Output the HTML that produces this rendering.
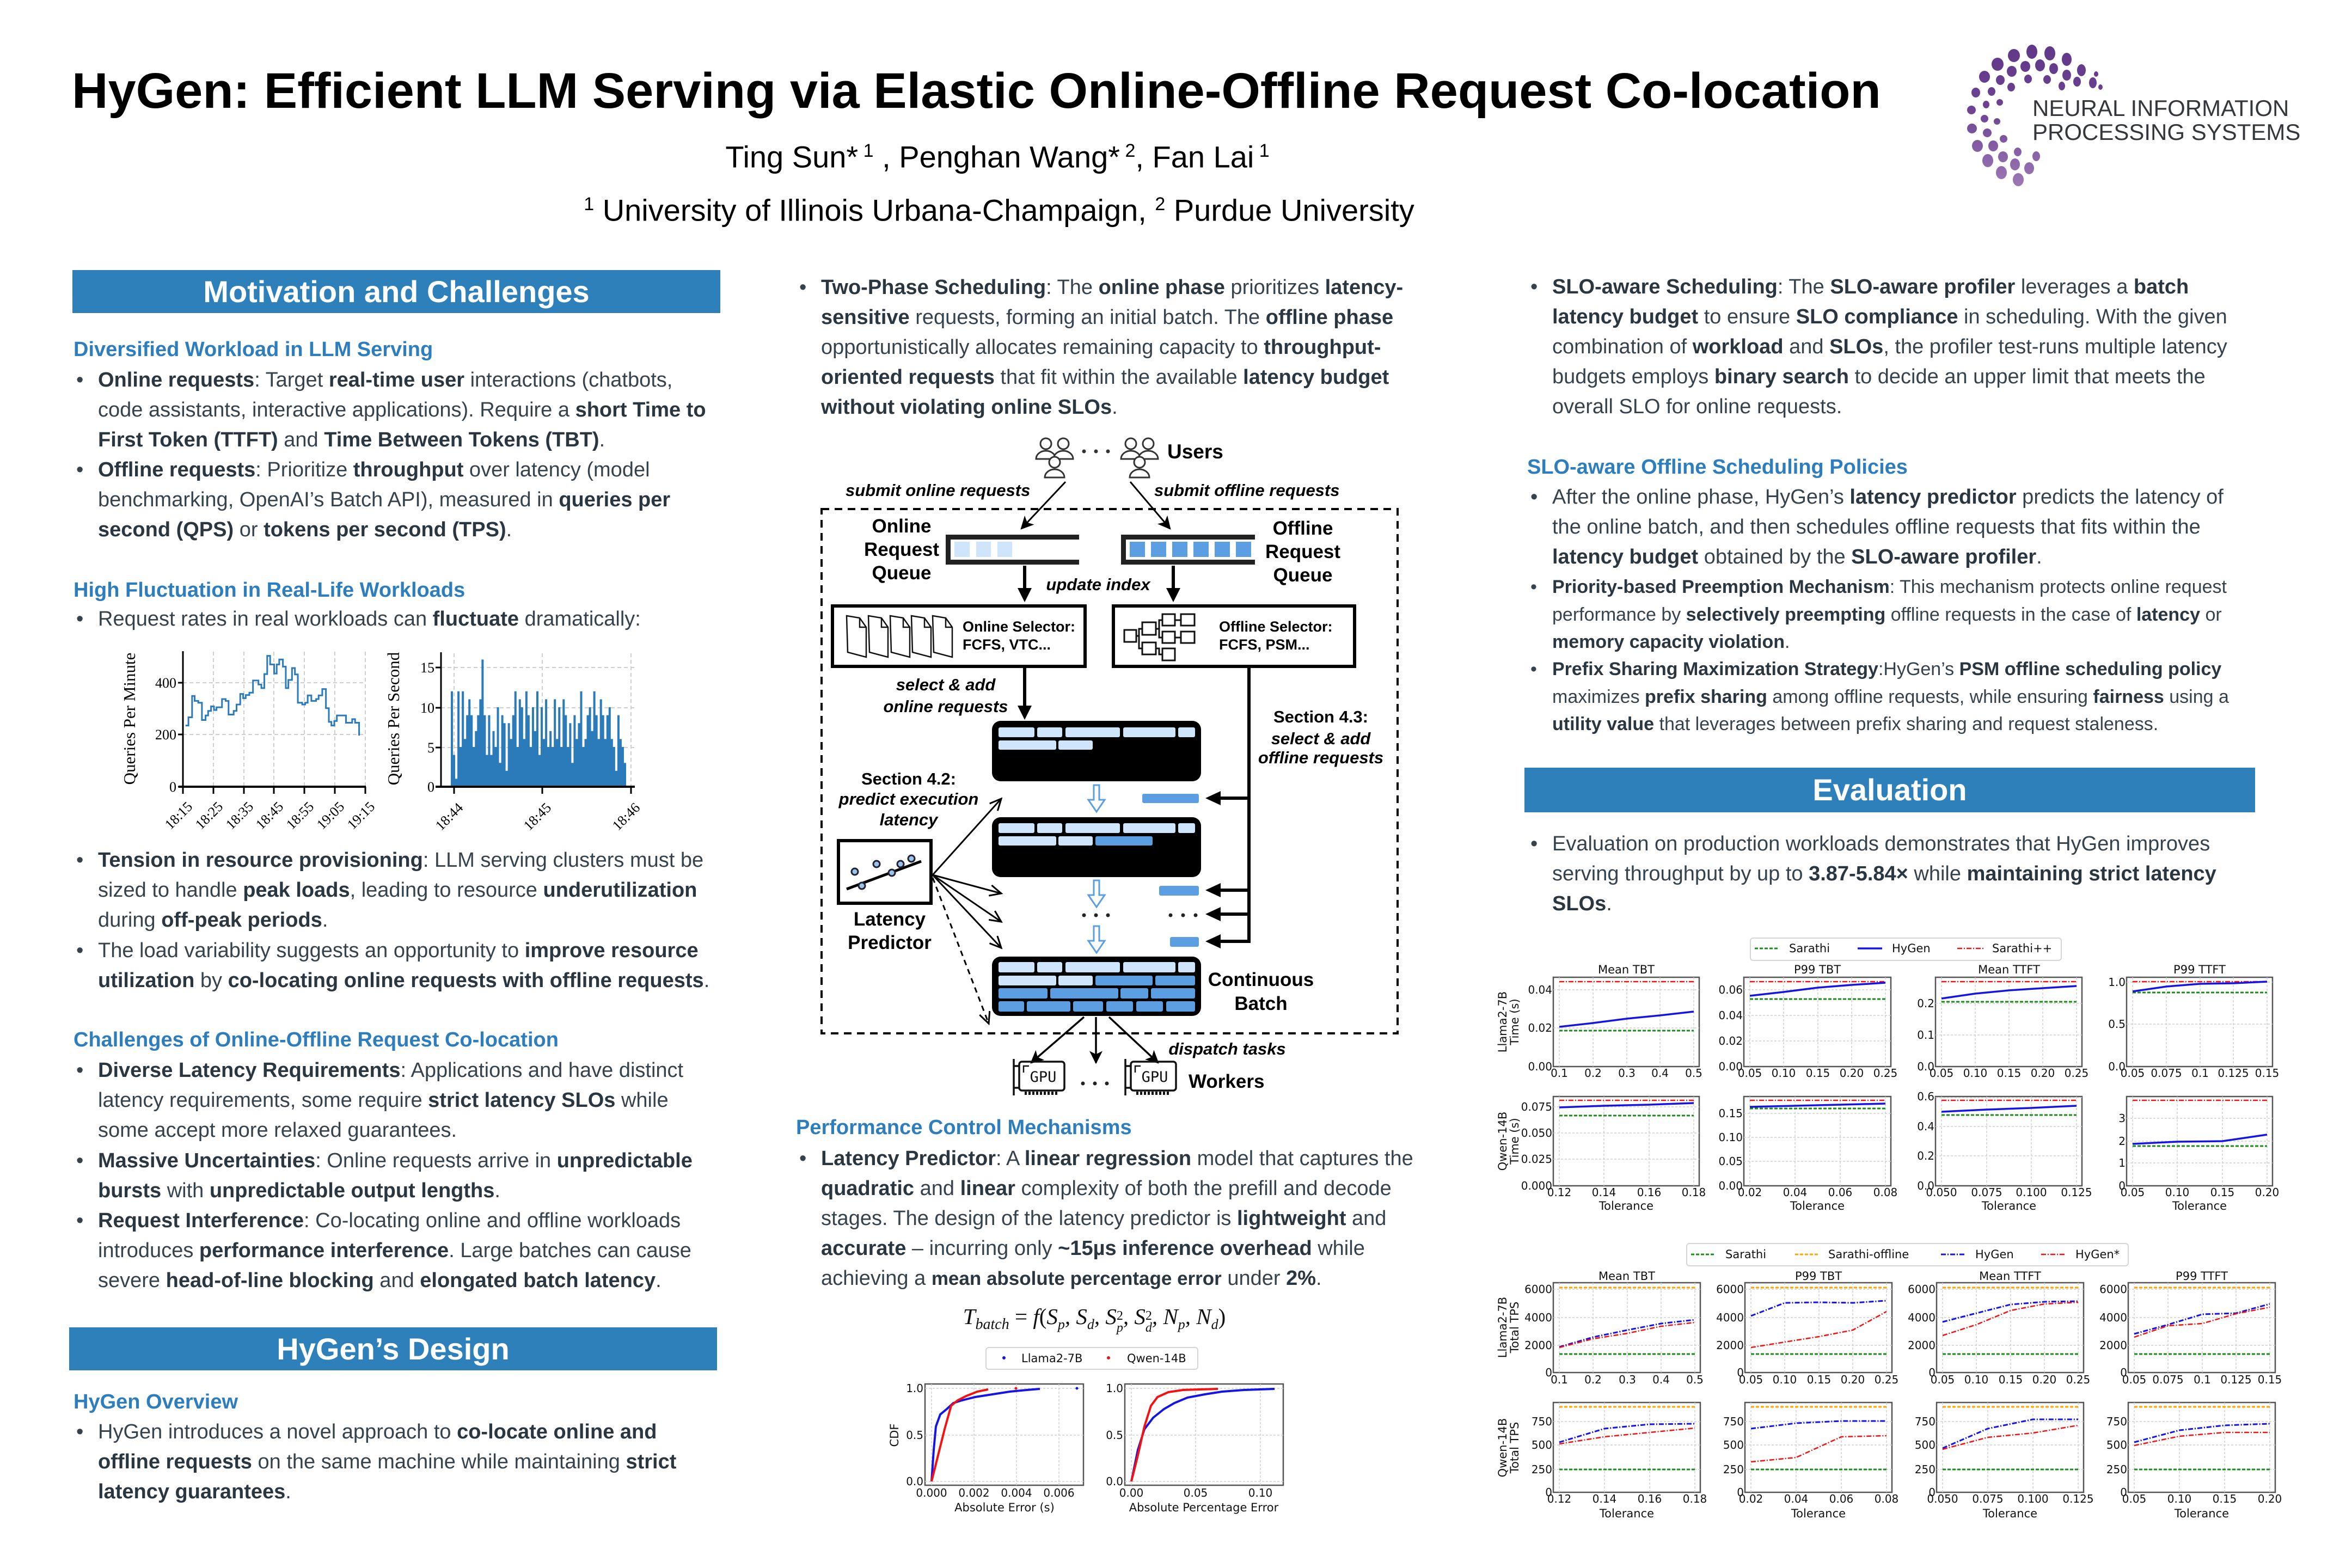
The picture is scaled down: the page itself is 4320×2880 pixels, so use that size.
<!DOCTYPE html>
<html><head><meta charset="utf-8">
<style>
html,body{margin:0;padding:0;background:#fff}
body{width:4320px;height:2880px;position:relative;overflow:hidden;font-family:"Liberation Sans",Arial,sans-serif}
.t{position:absolute;font-size:38px;line-height:55px;color:#36424c;white-space:nowrap}
.t b{color:#2a3640}
.s{font-size:34px;line-height:50.5px}
.li{position:relative}
.li:before{content:"\2022";position:absolute;left:-40px;top:0}
.h2{position:absolute;font-weight:bold;font-size:38px;line-height:55px;color:#2e7ebd;white-space:nowrap}
.bar{position:absolute;background:#2e80bb;color:#fff;font-weight:bold;font-size:56px;text-align:center;white-space:nowrap}
svg text{font-family:"Liberation Sans",Arial,sans-serif}
.tk{font-family:"DejaVu Sans",sans-serif !important;font-size:20px;fill:#111}
.tt{font-family:"DejaVu Sans",sans-serif !important;font-size:21px;fill:#111}
.fr{fill:#fff;stroke:#555;stroke-width:2.5}
.gd{stroke:#cfcfcf;stroke-width:1.5;stroke-dasharray:4 3;fill:none}
.sg{stroke:#1a8c1a;stroke-width:3;stroke-dasharray:6 3;fill:none}
.sr{stroke:#f21212;stroke-width:2.5;stroke-dasharray:9 3 2 3;fill:none}
.sb{stroke:#1414e6;stroke-width:3.5;fill:none}
.sbd{stroke:#1414e6;stroke-width:3;stroke-dasharray:9 3 2 3;fill:none}
.so{stroke:#ffa500;stroke-width:3;stroke-dasharray:6 3;fill:none}
.bi{font-weight:bold;font-style:italic;font-size:31px}
.bd{font-weight:bold;font-size:35px}
.lt{fill:#cfe5fb}.dk{fill:#5b9fe2}
</style></head>
<body>

<!-- Title -->
<div style="position:absolute;left:132px;top:112px;font-weight:bold;font-size:92px;line-height:110px;white-space:nowrap;color:#000">HyGen: Efficient LLM Serving via Elastic Online-Offline Request Co-location</div>
<div style="position:absolute;left:1032px;top:242px;width:1600px;text-align:center;font-size:56px;line-height:70px;white-space:nowrap;color:#000">Ting Sun*<sup style="font-size:34px"> 1</sup> , Penghan Wang*<sup style="font-size:34px"> 2</sup>, Fan Lai<sup style="font-size:34px"> 1</sup></div>
<div style="position:absolute;left:935px;top:340px;width:1800px;text-align:center;font-size:56px;line-height:70px;white-space:nowrap;color:#000"><sup style="font-size:34px">1</sup> University of Illinois Urbana-Champaign, <sup style="font-size:34px">2</sup> Purdue University</div>

<!-- Logo text -->
<div style="position:absolute;left:3733px;top:177px;font-size:42px;line-height:44px;color:#34373b;white-space:nowrap">NEURAL INFORMATION<br>PROCESSING SYSTEMS</div>

<!-- Section bars -->
<div class="bar" style="left:133px;top:496px;width:1190px;height:79px;line-height:79px">Motivation and Challenges</div>
<div class="bar" style="left:127px;top:2438px;width:1190px;height:79px;line-height:79px">HyGen’s Design</div>
<div class="bar" style="left:2800px;top:1410px;width:1342px;height:82px;line-height:82px">Evaluation</div>

<!-- Left column -->
<div class="h2" style="left:135px;top:615px">Diversified Workload in LLM Serving</div>
<div class="t li" style="position:absolute;left:180px;top:671px"><b>Online requests</b>: Target <b>real-time user</b> interactions (chatbots,<br>code assistants, interactive applications). Require a <b>short Time to</b><br><b>First Token (TTFT)</b> and <b>Time Between Tokens (TBT)</b>.</div>
<div class="t li" style="position:absolute;left:180px;top:836px"><b>Offline requests</b>: Prioritize <b>throughput</b> over latency (model<br>benchmarking, OpenAI’s Batch API), measured in <b>queries per</b><br><b>second (QPS)</b> or <b>tokens per second (TPS)</b>.</div>
<div class="h2" style="left:135px;top:1057px">High Fluctuation in Real-Life Workloads</div>
<div class="t li" style="position:absolute;left:180px;top:1110px">Request rates in real workloads can <b>fluctuate</b> dramatically:</div>

<div class="t li" style="position:absolute;left:180px;top:1553px"><b>Tension in resource provisioning</b>: LLM serving clusters must be<br>sized to handle <b>peak loads</b>, leading to resource <b>underutilization</b><br>during <b>off-peak periods</b>.</div>
<div class="t li" style="position:absolute;left:180px;top:1719px">The load variability suggests an opportunity to <b>improve resource</b><br><b>utilization</b> by <b>co-locating online requests with offline requests</b>.</div>
<div class="h2" style="left:135px;top:1883px">Challenges of Online-Offline Request Co-location</div>
<div class="t li" style="position:absolute;left:180px;top:1939px"><b>Diverse Latency Requirements</b>: Applications and have distinct<br>latency requirements, some require <b>strict latency SLOs</b> while<br>some accept more relaxed guarantees.</div>
<div class="t li" style="position:absolute;left:180px;top:2105px"><b>Massive Uncertainties</b>: Online requests arrive in <b>unpredictable</b><br><b>bursts</b> with <b>unpredictable output lengths</b>.</div>
<div class="t li" style="position:absolute;left:180px;top:2215px"><b>Request Interference</b>: Co-locating online and offline workloads<br>introduces <b>performance interference</b>. Large batches can cause<br>severe <b>head-of-line blocking</b> and <b>elongated batch latency</b>.</div>
<div class="h2" style="left:135px;top:2548px">HyGen Overview</div>
<div class="t li" style="position:absolute;left:180px;top:2603px">HyGen introduces a novel approach to <b>co-locate online and</b><br><b>offline requests</b> on the same machine while maintaining <b>strict</b><br><b>latency guarantees</b>.</div>

<!-- Middle column -->
<div class="t li" style="position:absolute;left:1508px;top:501px"><b>Two-Phase Scheduling</b>: The <b>online phase</b> prioritizes <b>latency-</b><br><b>sensitive</b> requests, forming an initial batch. The <b>offline phase</b><br>opportunistically allocates remaining capacity to <b>throughput-</b><br><b>oriented requests</b> that fit within the available <b>latency budget</b><br><b>without violating online SLOs</b>.</div>
<div class="h2" style="left:1462px;top:2044px">Performance Control Mechanisms</div>
<div class="t li" style="position:absolute;left:1508px;top:2101px"><b>Latency Predictor</b>: A <b>linear regression</b> model that captures the<br><b>quadratic</b> and <b>linear</b> complexity of both the prefill and decode<br>stages. The design of the latency predictor is <b>lightweight</b> and<br><b>accurate</b> – incurring only <b>~15µs inference overhead</b> while<br>achieving a <b style="font-size:35px">mean absolute percentage error</b> under <b>2%</b>.</div>
<div style="position:absolute;left:1700px;top:2388px;width:620px;text-align:center;font-family:'Liberation Serif',serif;font-style:italic;font-size:41px;line-height:60px;color:#111;white-space:nowrap">T<sub style="font-size:28px">batch</sub> <span style="font-style:normal">=</span> f<span style="font-style:normal">(</span>S<sub style="font-size:26px">p</sub>, S<sub style="font-size:26px">d</sub>, S<span style="display:inline-block;vertical-align:-14px;font-size:24px;line-height:22px;text-align:left"><span style="font-style:normal">2</span><br>p</span>, S<span style="display:inline-block;vertical-align:-14px;font-size:24px;line-height:22px;text-align:left"><span style="font-style:normal">2</span><br>d</span>, N<sub style="font-size:26px">p</sub>, N<sub style="font-size:26px">d</sub><span style="font-style:normal">)</span></div>

<!-- Right column -->
<div class="t li" style="position:absolute;left:2851px;top:500px"><b>SLO-aware Scheduling</b>: The <b>SLO-aware profiler</b> leverages a <b>batch</b><br><b>latency budget</b> to ensure <b>SLO compliance</b> in scheduling. With the given<br>combination of <b>workload</b> and <b>SLOs</b>, the profiler test-runs multiple latency<br>budgets employs <b>binary search</b> to decide an upper limit that meets the<br>overall SLO for online requests.</div>
<div class="h2" style="left:2805px;top:831px">SLO-aware Offline Scheduling Policies</div>
<div class="t li" style="position:absolute;left:2851px;top:886px">After the online phase, HyGen’s <b>latency predictor</b> predicts the latency of<br>the online batch, and then schedules offline requests that fits within the<br><b>latency budget</b> obtained by the <b>SLO-aware profiler</b>.</div>
<div class="t s li" style="position:absolute;left:2851px;top:1053px"><b>Priority-based Preemption Mechanism</b>: This mechanism protects online request<br>performance by <b>selectively preempting</b> offline requests in the case of <b>latency</b> or<br><b>memory capacity violation</b>.</div>
<div class="t s li" style="position:absolute;left:2851px;top:1204px"><b>Prefix Sharing Maximization Strategy</b>:HyGen’s <b>PSM offline scheduling policy</b><br>maximizes <b>prefix sharing</b> among offline requests, while ensuring <b>fairness</b> using a<br><b>utility value</b> that leverages between prefix sharing and request staleness.</div>
<div class="t li" style="position:absolute;left:2851px;top:1523px">Evaluation on production workloads demonstrates that HyGen improves<br>serving throughput by up to <b>3.87-5.84×</b> while <b>maintaining strict latency</b><br><b>SLOs</b>.</div>

<svg width="4320" height="2880" viewBox="0 0 4320 2880" style="position:absolute;left:0;top:0" xmlns="http://www.w3.org/2000/svg">
<defs>
<linearGradient id="lg" gradientUnits="userSpaceOnUse" x1="0" y1="90" x2="0" y2="340"><stop offset="0" stop-color="#623889"/><stop offset="0.45" stop-color="#6d4493"/><stop offset="1" stop-color="#9b78b4"/></linearGradient>
<marker id="af" viewBox="0 0 10 10" refX="9" refY="5" markerUnits="userSpaceOnUse" markerWidth="26" markerHeight="24" orient="auto"><path d="M0,0 L10,5 L0,10 L2.5,5 Z" fill="#000"/></marker>
<marker id="ao" viewBox="0 0 10 10" refX="9.5" refY="5" markerUnits="userSpaceOnUse" markerWidth="26" markerHeight="22" orient="auto"><path d="M0,0.5 L9.5,5 L0,9.5" fill="none" stroke="#000" stroke-width="1.4"/></marker>
</defs>

<!-- Logo dots -->
<g fill="url(#lg)">
<ellipse cx="3844" cy="152" rx="7" ry="10"/><ellipse cx="3823" cy="129" rx="8" ry="11"/><ellipse cx="3796" cy="109" rx="9" ry="12"/><ellipse cx="3765" cy="98" rx="10" ry="13"/><ellipse cx="3732" cy="95" rx="10" ry="13"/><ellipse cx="3699" cy="102" rx="11" ry="12"/><ellipse cx="3669" cy="118" rx="11" ry="12"/><ellipse cx="3645" cy="141" rx="10" ry="11"/><ellipse cx="3629" cy="170" rx="8" ry="9"/><ellipse cx="3621" cy="202" rx="8" ry="8"/><ellipse cx="3622" cy="236" rx="9" ry="9"/><ellipse cx="3632" cy="268" rx="10" ry="11"/><ellipse cx="3651" cy="295" rx="10" ry="12"/><ellipse cx="3676" cy="317" rx="10" ry="12"/><ellipse cx="3707" cy="330" rx="10" ry="12"/>
<ellipse cx="3815" cy="150" rx="7" ry="9"/><ellipse cx="3796" cy="138" rx="8" ry="10"/><ellipse cx="3772" cy="126" rx="8" ry="10"/><ellipse cx="3747" cy="120" rx="9" ry="11"/><ellipse cx="3720" cy="122" rx="9" ry="10"/><ellipse cx="3695" cy="131" rx="9" ry="10"/><ellipse cx="3674" cy="147" rx="8" ry="9"/><ellipse cx="3658" cy="168" rx="7" ry="8"/><ellipse cx="3648" cy="192" rx="6" ry="7"/><ellipse cx="3645" cy="218" rx="7" ry="7"/><ellipse cx="3650" cy="244" rx="8" ry="8"/><ellipse cx="3661" cy="268" rx="9" ry="10"/><ellipse cx="3679" cy="288" rx="9" ry="10"/><ellipse cx="3701" cy="302" rx="9" ry="11"/><ellipse cx="3727" cy="309" rx="9" ry="11"/>
<ellipse cx="3787" cy="158" rx="6" ry="8"/><ellipse cx="3760" cy="146" rx="7" ry="8"/><ellipse cx="3725" cy="145" rx="7" ry="8"/><ellipse cx="3694" cy="160" rx="7" ry="8"/><ellipse cx="3673" cy="188" rx="6" ry="6"/><ellipse cx="3668" cy="223" rx="6" ry="6"/><ellipse cx="3680" cy="255" rx="7" ry="7"/><ellipse cx="3706" cy="279" rx="7" ry="8"/><ellipse cx="3740" cy="287" rx="7" ry="9"/>
<ellipse cx="3858" cy="160" rx="4" ry="5"/><ellipse cx="3850" cy="136" rx="4" ry="5"/>
</g>

<!-- ===== Left charts ===== -->
<g>
<path d="M336 1254H671M336 1349H671M392 1197V1445M448 1197V1445M503 1197V1445M559 1197V1445M615 1197V1445M671 1197V1445" stroke="#cfcfcf" stroke-width="2" stroke-dasharray="7 5" fill="none"/>
<line x1="336" y1="1196" x2="336" y2="1446" stroke="#000" stroke-width="3"/>
<line x1="328" y1="1445" x2="672" y2="1445" stroke="#000" stroke-width="4"/>
<path d="M327 1254H336M327 1349H336M327 1445H336M336 1445V1458M392 1445V1458M448 1445V1458M503 1445V1458M559 1445V1458M615 1445V1458M671 1445V1458" stroke="#000" stroke-width="3"/>
<path transform="translate(180,1150) scale(0.6698,0.3350)" d="M240,545 H248 V500 H258 V383 H265 V410 H275 V420 H285 V515 H295 V490 H302 V465 H310 V440 H318 V460 H325 V445 H340 V400 H350 V410 H358 V485 H372 V465 H380 V430 H390 V372 H398 V395 H405 V378 H415 V365 H425 V298 H440 V320 H448 V340 H456 V263 H464 V163 H472 V210 H483 V260 H490 V210 H497 V183 H507 V222 H515 V340 H522 V295 H532 V230 H540 V265 H548 V420 H560 V430 H568 V420 H575 V380 H585 V410 H598 V400 H605 V380 H615 V345 H625 V450 H633 V525 H640 V545 H648 V520 H655 V490 H670 V490 H680 V530 H697 V510 H705 V530 H716 V600" fill="none" stroke="#2b7bba" stroke-width="3" vector-effect="non-scaling-stroke"/>
<g font-size="26" fill="#000">
<text x="324" y="1263" text-anchor="end" style="font-family:'Liberation Serif',serif">400</text><text x="324" y="1358" text-anchor="end" style="font-family:'Liberation Serif',serif">200</text><text x="324" y="1454" text-anchor="end" style="font-family:'Liberation Serif',serif">0</text>
<text transform="translate(334,1504) rotate(-45)" text-anchor="middle" style="font-family:'Liberation Serif',serif">18:15</text>
<text transform="translate(390,1504) rotate(-45)" text-anchor="middle" style="font-family:'Liberation Serif',serif">18:25</text>
<text transform="translate(446,1504) rotate(-45)" text-anchor="middle" style="font-family:'Liberation Serif',serif">18:35</text>
<text transform="translate(501,1504) rotate(-45)" text-anchor="middle" style="font-family:'Liberation Serif',serif">18:45</text>
<text transform="translate(557,1504) rotate(-45)" text-anchor="middle" style="font-family:'Liberation Serif',serif">18:55</text>
<text transform="translate(613,1504) rotate(-45)" text-anchor="middle" style="font-family:'Liberation Serif',serif">19:05</text>
<text transform="translate(669,1504) rotate(-45)" text-anchor="middle" style="font-family:'Liberation Serif',serif">19:15</text>
<text transform="translate(248,1320) rotate(-90)" text-anchor="middle" font-size="31" style="font-family:'Liberation Serif',serif">Queries Per Minute</text>
</g>
<path d="M810 1226H1165M810 1300H1165M810 1373H1165M834 1200V1445M996 1200V1445M1159 1200V1445" stroke="#cfcfcf" stroke-width="2" stroke-dasharray="7 5" fill="none"/>
<path transform="translate(828,1445) scale(4.025,-14.6)" fill="#2b7bba" d="M0,0 V12 H1 V4 H2 V1 H3 V12 H4 V5 H5 V12 H6 V6 H7 V9 H8 V11 H9 V9 H10 V5 H11 V7 H12 V9 H13 V11 H14 V16 H15 V9 H16 V4 H17 V9 H18 V4 H19 V7 H20 V5 H21 V10 H22 V3 H23 V9 H24 V8 H25 V2 H26 V8 H27 V6 H28 V9 H29 V12 H30 V5 H31 V11 H32 V10 H33 V6 H34 V12 H35 V9 H36 V5 H37 V10 H38 V7 H39 V12 H40 V4 H41 V10 H42 V6 H43 V11 H44 V5 H45 V7 H46 V5 H47 V11 H48 V6 H49 V10 H50 V5 H51 V11 H52 V9 H53 V5 H54 V8 H55 V3 H56 V9 H57 V6 H58 V8 H59 V12 H60 V5 H61 V6 H62 V9 H63 V10 H64 V7 H65 V12 H66 V9 H67 V6 H68 V11 H69 V9 H70 V6 H71 V9 H72 V10 H73 V6 H74 V5 H75 V2 H76 V9 H77 V6 H78 V5 H79 V3 H80 V0 Z"/>
<line x1="810" y1="1198" x2="810" y2="1446" stroke="#000" stroke-width="3"/>
<line x1="800" y1="1445" x2="1166" y2="1445" stroke="#000" stroke-width="4"/>
<path d="M800 1226H810M800 1300H810M800 1373H810M800 1445H810M834 1445V1458M996 1445V1458M1159 1445V1458" stroke="#000" stroke-width="3"/>
<g font-size="26" fill="#000">
<text x="798" y="1235" text-anchor="end" style="font-family:'Liberation Serif',serif">15</text><text x="798" y="1309" text-anchor="end" style="font-family:'Liberation Serif',serif">10</text><text x="798" y="1382" text-anchor="end" style="font-family:'Liberation Serif',serif">5</text><text x="798" y="1454" text-anchor="end" style="font-family:'Liberation Serif',serif">0</text>
<text transform="translate(831,1506) rotate(-45)" text-anchor="middle" style="font-family:'Liberation Serif',serif">18:44</text>
<text transform="translate(993,1506) rotate(-45)" text-anchor="middle" style="font-family:'Liberation Serif',serif">18:45</text>
<text transform="translate(1156,1506) rotate(-45)" text-anchor="middle" style="font-family:'Liberation Serif',serif">18:46</text>
<text transform="translate(733,1320) rotate(-90)" text-anchor="middle" font-size="31" style="font-family:'Liberation Serif',serif">Queries Per Second</text>
</g>
</g>

<!-- ===== Middle diagram ===== -->
<rect x="1509" y="935" width="1058" height="963" fill="none" stroke="#000" stroke-width="4" stroke-dasharray="14 10"/>
<g fill="#fff" stroke="#333" stroke-width="3">
<path d="M1903,843 A18,15 0 0 1 1939,843 Z"/><circle cx="1921" cy="815" r="10"/>
<path d="M1935,843 A18,15 0 0 1 1971,843 Z"/><circle cx="1953" cy="815" r="10"/>
<path d="M1919,877 A18,15 0 0 1 1955,877 Z"/><circle cx="1937" cy="849" r="10"/>
<path d="M2059,843 A18,15 0 0 1 2095,843 Z"/><circle cx="2077" cy="815" r="10"/>
<path d="M2091,843 A18,15 0 0 1 2127,843 Z"/><circle cx="2109" cy="815" r="10"/>
<path d="M2075,877 A18,15 0 0 1 2111,877 Z"/><circle cx="2093" cy="849" r="10"/>
</g>
<g fill="#333"><circle cx="1991" cy="829" r="3.5"/><circle cx="2013" cy="829" r="3.5"/><circle cx="2035" cy="829" r="3.5"/></g>
<text x="2144" y="842" font-weight="bold" font-size="37">Users</text>
<text x="1553" y="911" class="bi">submit online requests</text>
<text x="2120" y="911" class="bi">submit offline requests</text>
<line x1="1957" y1="885" x2="1876" y2="971" stroke="#000" stroke-width="3" marker-end="url(#af)"/>
<line x1="2076" y1="885" x2="2149" y2="971" stroke="#000" stroke-width="3" marker-end="url(#af)"/>
<g text-anchor="middle"><text x="1656" y="978" class="bd">Online</text><text x="1656" y="1021" class="bd">Request</text><text x="1656" y="1064" class="bd">Queue</text>
<text x="2393" y="982" class="bd">Offline</text><text x="2393" y="1025" class="bd">Request</text><text x="2393" y="1068" class="bd">Queue</text></g>
<path d="M1982,986.5 H1741.5 V1032.5 H1982" fill="none" stroke="#222" stroke-width="9"/>
<path d="M2305,986.5 H2063.5 V1032.5 H2305" fill="none" stroke="#222" stroke-width="9"/>
<g class="lt"><rect x="1753" y="995" width="28" height="28"/><rect x="1793" y="995" width="27" height="28"/><rect x="1832" y="995" width="27" height="28"/></g>
<g class="dk"><rect x="2075" y="995" width="28" height="28"/><rect x="2114" y="995" width="28" height="28"/><rect x="2153" y="995" width="28" height="28"/><rect x="2192" y="995" width="28" height="28"/><rect x="2231" y="995" width="28" height="28"/><rect x="2270" y="995" width="28" height="28"/></g>
<g stroke="#000" stroke-width="6"><line x1="1882" y1="1039" x2="1882" y2="1084"/><line x1="2155" y1="1039" x2="2155" y2="1084"/><line x1="1882" y1="1226" x2="1882" y2="1300"/><line x1="2294" y1="1224" x2="2294" y2="1732"/>
<line x1="2294" y1="1466" x2="2238" y2="1466"/><line x1="2294" y1="1635" x2="2238" y2="1635"/><line x1="2294" y1="1679" x2="2238" y2="1679"/><line x1="2294" y1="1729" x2="2238" y2="1729"/></g>
<g fill="#000"><path d="M1869,1080 H1895 L1882,1106 Z"/><path d="M2142,1080 H2168 L2155,1106 Z"/><path d="M1869,1296 H1895 L1882,1322 Z"/>
<path d="M2242,1453 V1479 L2214,1466 Z"/><path d="M2242,1622 V1648 L2214,1635 Z"/><path d="M2242,1666 V1692 L2214,1679 Z"/><path d="M2242,1716 V1742 L2214,1729 Z"/></g>
<text x="2017" y="1084" class="bi" text-anchor="middle">update index</text>
<rect x="1529" y="1113" width="464" height="111" fill="#fff" stroke="#000" stroke-width="6"/>
<rect x="2045" y="1113" width="443" height="111" fill="#fff" stroke="#000" stroke-width="6"/>
<g fill="#fff" stroke="#111" stroke-width="2.5">
<path d="M1555,1131 L1579,1135 L1591,1152 L1591,1207 L1557,1198 Z M1579,1135 L1579,1152 L1591,1152"/>
<path d="M1595,1131 L1619,1135 L1631,1152 L1631,1207 L1597,1198 Z M1619,1135 L1619,1152 L1631,1152"/>
<path d="M1635,1131 L1659,1135 L1671,1152 L1671,1207 L1637,1198 Z M1659,1135 L1659,1152 L1671,1152"/>
<path d="M1674,1131 L1698,1135 L1710,1152 L1710,1207 L1676,1198 Z M1698,1135 L1698,1152 L1710,1152"/>
<path d="M1713,1131 L1737,1135 L1749,1152 L1749,1207 L1715,1198 Z M1737,1135 L1737,1152 L1749,1152"/>
</g>
<g fill="none" stroke="#111" stroke-width="3">
<path d="M2087,1168 H2092 V1155 H2098 M2092,1168 V1191 H2098 M2123,1155 H2129 V1139 H2135 M2129,1155 V1171 H2135 M2123,1191 H2129 V1202 H2135 M2158,1139 H2169 M2158,1171 H2169"/>
<rect x="2065" y="1157" width="22" height="22"/><rect x="2098" y="1143" width="25" height="23"/><rect x="2098" y="1180" width="25" height="22"/>
<rect x="2135" y="1128" width="23" height="21"/><rect x="2169" y="1128" width="25" height="21"/><rect x="2135" y="1160" width="23" height="21"/><rect x="2169" y="1160" width="25" height="21"/><rect x="2135" y="1191" width="23" height="22"/>
</g>
<g font-weight="bold" font-size="27"><text x="1768" y="1160">Online Selector:</text><text x="1768" y="1193">FCFS, VTC...</text><text x="2239" y="1160">Offline Selector:</text><text x="2239" y="1193">FCFS, PSM...</text></g>
<g text-anchor="middle"><text x="1737" y="1268" class="bi">select &amp; add</text><text x="1737" y="1308" class="bi">online requests</text>
<text x="2426" y="1327" font-weight="bold" font-size="31">Section 4.3:</text><text x="2426" y="1367" class="bi">select &amp; add</text><text x="2426" y="1402" class="bi">offline requests</text>
<text x="1669" y="1441" font-weight="bold" font-size="31">Section 4.2:</text><text x="1669" y="1478" class="bi">predict execution</text><text x="1669" y="1516" class="bi">latency</text></g>
<rect x="1822" y="1324" width="384" height="111" rx="16" fill="#000"/>
<rect x="1822" y="1501" width="384" height="110" rx="16" fill="#000"/>
<rect x="1822" y="1757" width="384" height="109" rx="16" fill="#000"/>
<g class="lt">
<rect x="1834" y="1336" width="66" height="18" rx="3"/><rect x="1905" y="1336" width="46" height="18" rx="3"/><rect x="1957" y="1336" width="100" height="18" rx="3"/><rect x="2063" y="1336" width="96" height="18" rx="3"/><rect x="2164" y="1336" width="31" height="18" rx="3"/>
<rect x="1834" y="1360" width="106" height="17" rx="3"/><rect x="1944" y="1360" width="63" height="17" rx="3"/>
<rect x="1834" y="1512" width="66" height="18" rx="3"/><rect x="1905" y="1512" width="46" height="18" rx="3"/><rect x="1957" y="1512" width="100" height="18" rx="3"/><rect x="2063" y="1512" width="96" height="18" rx="3"/><rect x="2164" y="1512" width="31" height="18" rx="3"/>
<rect x="1834" y="1536" width="106" height="17" rx="3"/><rect x="1944" y="1536" width="63" height="17" rx="3"/>
<rect x="1834" y="1767" width="66" height="19" rx="3"/><rect x="1905" y="1767" width="46" height="19" rx="3"/><rect x="1957" y="1767" width="100" height="19" rx="3"/><rect x="2063" y="1767" width="96" height="19" rx="3"/><rect x="2164" y="1767" width="31" height="19" rx="3"/>
<rect x="1834" y="1792" width="106" height="18" rx="3"/><rect x="1944" y="1792" width="63" height="18" rx="3"/>
</g>
<g class="dk">
<rect x="2012" y="1536" width="105" height="17" rx="3"/>
<rect x="2012" y="1792" width="105" height="18" rx="3"/><rect x="2122" y="1792" width="73" height="18" rx="3"/>
<rect x="1834" y="1815" width="90" height="19" rx="3"/><rect x="1929" y="1815" width="125" height="19" rx="3"/><rect x="2058" y="1815" width="51" height="19" rx="3"/><rect x="2114" y="1815" width="81" height="19" rx="3"/>
<rect x="1834" y="1839" width="47" height="19" rx="3"/><rect x="1886" y="1839" width="80" height="19" rx="3"/><rect x="1971" y="1839" width="55" height="19" rx="3"/><rect x="2032" y="1839" width="49" height="19" rx="3"/><rect x="2087" y="1839" width="49" height="19" rx="3"/><rect x="2142" y="1839" width="53" height="19" rx="3"/>
<rect x="2098" y="1458" width="104" height="17" rx="3"/><rect x="2129" y="1627" width="73" height="18" rx="3"/><rect x="2149" y="1721" width="53" height="18" rx="3"/>
</g>
<g fill="#fff" stroke="#5b9fe2" stroke-width="3">
<path d="M2009,1442 H2019 V1469 H2029 L2014,1491 L1999,1469 H2009 Z"/>
<path d="M2009,1617 H2019 V1644 H2029 L2014,1666 L1999,1644 H2009 Z"/>
<path d="M2009,1701 H2019 V1728 H2029 L2014,1750 L1999,1728 H2009 Z"/>
</g>
<g fill="#222"><circle cx="1991" cy="1681" r="3.5"/><circle cx="2013" cy="1681" r="3.5"/><circle cx="2035" cy="1681" r="3.5"/><circle cx="2150" cy="1681" r="3.5"/><circle cx="2173" cy="1681" r="3.5"/><circle cx="2196" cy="1681" r="3.5"/></g>
<g text-anchor="middle"><text x="2316" y="1811" class="bd">Continuous</text><text x="2316" y="1855" class="bd">Batch</text>
<text x="1634" y="1700" class="bd">Latency</text><text x="1634" y="1743" class="bd">Predictor</text></g>
<rect x="1540" y="1544" width="170" height="115" fill="#fff" stroke="#000" stroke-width="6"/>
<line x1="1555" y1="1633" x2="1692" y2="1582" stroke="#000" stroke-width="5"/>
<g fill="#9cc3ea" stroke="#223" stroke-width="3"><circle cx="1570" cy="1601" r="6"/><circle cx="1583" cy="1627" r="6"/><circle cx="1610" cy="1587" r="6"/><circle cx="1638" cy="1603" r="6"/><circle cx="1654" cy="1587" r="6"/><circle cx="1674" cy="1577" r="6"/></g>
<g stroke="#000" stroke-width="3" marker-end="url(#ao)"><line x1="1713" y1="1607" x2="1839" y2="1467"/><line x1="1713" y1="1607" x2="1839" y2="1641"/><line x1="1713" y1="1607" x2="1839" y2="1693"/><line x1="1713" y1="1607" x2="1839" y2="1741"/><line x1="1713" y1="1612" x2="1816" y2="1880" stroke-dasharray="10 8"/></g>
<g stroke="#000" stroke-width="3.5" marker-end="url(#af)"><line x1="1991" y1="1868" x2="1894" y2="1952"/><line x1="2013" y1="1868" x2="2013" y2="1952"/><line x1="2037" y1="1868" x2="2127" y2="1952"/></g>
<text x="2254" y="1937" class="bi" text-anchor="middle">dispatch tasks</text>
<g fill="none" stroke="#111" stroke-width="3.5">
<path d="M1862,1945 V2012 M1862,1958 H1872 M1862,1998 H1872"/><rect x="1872" y="1950" width="83" height="53" rx="5"/><path d="M1880,1970 V1958 H1890" stroke-width="2.5"/><path d="M1882,2008 H1945" stroke-width="6" stroke-dasharray="4 3"/>
<path d="M2067,1945 V2012 M2067,1958 H2077 M2067,1998 H2077"/><rect x="2077" y="1950" width="83" height="53" rx="5"/><path d="M2085,1970 V1958 H2095" stroke-width="2.5"/><path d="M2087,2008 H2150" stroke-width="6" stroke-dasharray="4 3"/>
</g>
<g font-size="27" fill="#111" text-anchor="middle"><text x="1916" y="1987" style="font-family:'DejaVu Sans Mono',monospace">GPU</text><text x="2121" y="1987" style="font-family:'DejaVu Sans Mono',monospace">GPU</text></g>
<g fill="#222"><circle cx="1989" cy="1990" r="3.5"/><circle cx="2011" cy="1990" r="3.5"/><circle cx="2033" cy="1990" r="3.5"/></g>
<text x="2183" y="1998" class="bd">Workers</text>

<!-- ===== CDF charts ===== -->
<rect x="1811" y="2475" width="389" height="40" rx="5" fill="#fff" stroke="#d5d5d5" stroke-width="2"/>
<circle cx="1844" cy="2494" r="3" fill="#1414e6"/><circle cx="2036" cy="2494" r="3" fill="#f21212"/>
<text x="1876" y="2502" class="tt">Llama2-7B</text><text x="2070" y="2502" class="tt">Qwen-14B</text>
<rect x="1699" y="2542" width="291" height="186" class="fr" stroke="#333"/>
<path class="gd" d="M1711 2542V2728M1789 2542V2728M1867 2542V2728M1945 2542V2728M1699 2550H1990M1699 2636H1990M1699 2721H1990"/>
<polyline fill="none" stroke="#1414e6" stroke-width="4" points="1711,2721 1715,2663 1719,2620 1727,2598 1739,2588 1751,2577 1767,2572 1791,2566 1823,2561 1855,2556 1886,2553 1910,2551"/>
<circle cx="1978" cy="2550" r="2.5" fill="#1414e6"/>
<polyline fill="none" stroke="#f21212" stroke-width="4" points="1711,2721 1723,2673 1735,2625 1747,2582 1759,2572 1775,2564 1795,2556 1815,2552"/>
<circle cx="1866" cy="2550" r="2.5" fill="#f21212"/>
<rect x="2066" y="2542" width="291" height="186" class="fr" stroke="#333"/>
<path class="gd" d="M2078 2542V2728M2196 2542V2728M2315 2542V2728M2066 2550H2357M2066 2636H2357M2066 2721H2357"/>
<polyline fill="none" stroke="#1414e6" stroke-width="4" points="2078,2721 2090,2663 2102,2625 2118,2604 2138,2588 2157,2577 2181,2567 2213,2561 2245,2556 2285,2553 2341,2551"/>
<polyline fill="none" stroke="#f21212" stroke-width="4" points="2078,2721 2090,2673 2102,2620 2114,2582 2126,2566 2146,2557 2173,2553 2237,2551"/>
<g text-anchor="end"><text x="1696" y="2557" class="tk">1.0</text><text x="1696" y="2643" class="tk">0.5</text><text x="1696" y="2728" class="tk">0.0</text>
<text x="2063" y="2557" class="tk">1.0</text><text x="2063" y="2643" class="tk">0.5</text><text x="2063" y="2728" class="tk">0.0</text></g>
<g text-anchor="middle"><text x="1711" y="2749" class="tk">0.000</text><text x="1789" y="2749" class="tk">0.002</text><text x="1867" y="2749" class="tk">0.004</text><text x="1945" y="2749" class="tk">0.006</text>
<text x="2078" y="2749" class="tk">0.00</text><text x="2196" y="2749" class="tk">0.05</text><text x="2315" y="2749" class="tk">0.10</text>
<text x="1845" y="2776" class="tt">Absolute Error (s)</text><text x="2211" y="2776" class="tt">Absolute Percentage Error</text>
<text transform="translate(1650,2636) rotate(-90)" class="tt">CDF</text></g>

<!-- ===== Evaluation block 1 ===== -->
<rect x="3215" y="1723" width="571" height="41" rx="5" fill="#fff" stroke="#d5d5d5" stroke-width="2"/>
<line x1="3223" y1="1742" x2="3266" y2="1742" class="sg"/><text x="3286" y="1749" class="tt">Sarathi</text>
<line x1="3412" y1="1742" x2="3457" y2="1742" class="sb"/><text x="3475" y="1749" class="tt">HyGen</text>
<line x1="3595" y1="1742" x2="3643" y2="1742" class="sr"/><text x="3659" y="1749" class="tt">Sarathi++</text>
<g text-anchor="middle">
<text x="2987" y="1788" class="tt">Mean TBT</text><text x="3338" y="1788" class="tt">P99 TBT</text><text x="3690" y="1788" class="tt">Mean TTFT</text><text x="4040" y="1788" class="tt">P99 TTFT</text>
<text x="2987" y="2222" class="tt">Tolerance</text><text x="3338" y="2222" class="tt">Tolerance</text><text x="3690" y="2222" class="tt">Tolerance</text><text x="4040" y="2222" class="tt">Tolerance</text>
<text transform="translate(2767,1877) rotate(-90)" class="tt">Llama2-7B</text><text transform="translate(2789,1877) rotate(-90)" class="tt">Time (s)</text>
<text transform="translate(2767,2096) rotate(-90)" class="tt">Qwen-14B</text><text transform="translate(2789,2096) rotate(-90)" class="tt">Time (s)</text>
</g>
<rect class="fr" x="2853" y="1795" width="268" height="164"/>
<path class="gd" d="M2864 1795V1959M2926 1795V1959M2988 1795V1959M3049 1795V1959M3111 1795V1959M2853 1888H3121M2853 1818H3121"/>
<polyline class="sr" points="2864,1803 3111,1803"/><polyline class="sg" points="2864,1893 3111,1893"/><polyline class="sb" points="2864,1886 2926,1879 2988,1871 3049,1865 3111,1858"/>
<rect class="fr" x="3203" y="1795" width="270" height="164"/>
<path class="gd" d="M3214 1795V1959M3276 1795V1959M3339 1795V1959M3401 1795V1959M3463 1795V1959M3203 1912H3473M3203 1865H3473M3203 1818H3473"/>
<polyline class="sr" points="3214,1803 3463,1803"/><polyline class="sg" points="3214,1835 3463,1835"/><polyline class="sb" points="3214,1829 3276,1822 3339,1814 3401,1809 3463,1805"/>
<rect class="fr" x="3555" y="1795" width="269" height="164"/>
<path class="gd" d="M3566 1795V1959M3628 1795V1959M3690 1795V1959M3752 1795V1959M3814 1795V1959M3555 1901H3824M3555 1843H3824"/>
<polyline class="sr" points="3566,1803 3814,1803"/><polyline class="sg" points="3566,1840 3814,1840"/><polyline class="sb" points="3566,1834 3628,1825 3690,1819 3752,1815 3814,1811"/>
<rect class="fr" x="3906" y="1795" width="268" height="164"/>
<path class="gd" d="M3917 1795V1959M3979 1795V1959M4041 1795V1959M4102 1795V1959M4164 1795V1959M3906 1881H4174M3906 1804H4174"/>
<polyline class="sr" points="3917,1803 4164,1803"/><polyline class="sg" points="3917,1823 4164,1823"/><polyline class="sb" points="3917,1821 3979,1812 4041,1807 4102,1806 4164,1803"/>
<g text-anchor="end">
<text x="2851" y="1966" class="tk">0.00</text><text x="2851" y="1895" class="tk">0.02</text><text x="2851" y="1825" class="tk">0.04</text>
<text x="3201" y="1966" class="tk">0.00</text><text x="3201" y="1919" class="tk">0.02</text><text x="3201" y="1872" class="tk">0.04</text><text x="3201" y="1825" class="tk">0.06</text>
<text x="3553" y="1966" class="tk">0.0</text><text x="3553" y="1908" class="tk">0.1</text><text x="3553" y="1850" class="tk">0.2</text>
<text x="3904" y="1966" class="tk">0.0</text><text x="3904" y="1888" class="tk">0.5</text><text x="3904" y="1811" class="tk">1.0</text>
</g>
<g text-anchor="middle">
<text x="2864" y="1978" class="tk">0.1</text><text x="2926" y="1978" class="tk">0.2</text><text x="2988" y="1978" class="tk">0.3</text><text x="3049" y="1978" class="tk">0.4</text><text x="3111" y="1978" class="tk">0.5</text>
<text x="3214" y="1978" class="tk">0.05</text><text x="3276" y="1978" class="tk">0.10</text><text x="3339" y="1978" class="tk">0.15</text><text x="3401" y="1978" class="tk">0.20</text><text x="3463" y="1978" class="tk">0.25</text>
<text x="3566" y="1978" class="tk">0.05</text><text x="3628" y="1978" class="tk">0.10</text><text x="3690" y="1978" class="tk">0.15</text><text x="3752" y="1978" class="tk">0.20</text><text x="3814" y="1978" class="tk">0.25</text>
<text x="3917" y="1978" class="tk">0.05</text><text x="3979" y="1978" class="tk">0.075</text><text x="4041" y="1978" class="tk">0.1</text><text x="4102" y="1978" class="tk">0.125</text><text x="4164" y="1978" class="tk">0.15</text>
</g>
<rect class="fr" x="2853" y="2014" width="268" height="164"/>
<path class="gd" d="M2864 2014V2178M2946 2014V2178M3029 2014V2178M3111 2014V2178M2853 2129H3121M2853 2081H3121M2853 2033H3121"/>
<polyline class="sr" points="2864,2021 3111,2021"/><polyline class="sg" points="2864,2049 3111,2049"/><polyline class="sb" points="2864,2034 2946,2031 3029,2029 3111,2026"/>
<rect class="fr" x="3203" y="2014" width="270" height="164"/>
<path class="gd" d="M3214 2014V2178M3297 2014V2178M3380 2014V2178M3463 2014V2178M3203 2133H3473M3203 2089H3473M3203 2045H3473"/>
<polyline class="sr" points="3214,2021 3463,2021"/><polyline class="sg" points="3214,2036 3463,2036"/><polyline class="sb" points="3214,2033 3297,2031 3380,2029 3463,2027"/>
<rect class="fr" x="3555" y="2014" width="269" height="164"/>
<path class="gd" d="M3566 2014V2178M3649 2014V2178M3731 2014V2178M3814 2014V2178M3555 2123H3824M3555 2069H3824M3555 2016H3824"/>
<polyline class="sr" points="3566,2021 3814,2021"/><polyline class="sg" points="3566,2048 3814,2048"/><polyline class="sb" points="3566,2042 3649,2038 3731,2035 3814,2031"/>
<rect class="fr" x="3906" y="2014" width="268" height="164"/>
<path class="gd" d="M3917 2014V2178M3999 2014V2178M4082 2014V2178M4164 2014V2178M3906 2136H4174M3906 2096H4174M3906 2054H4174"/>
<polyline class="sr" points="3917,2021 4164,2021"/><polyline class="sg" points="3917,2105 4164,2105"/><polyline class="sb" points="3917,2101 3999,2097 4082,2096 4164,2084"/>
<g text-anchor="end">
<text x="2851" y="2185" class="tk">0.000</text><text x="2851" y="2136" class="tk">0.025</text><text x="2851" y="2088" class="tk">0.050</text><text x="2851" y="2040" class="tk">0.075</text>
<text x="3201" y="2185" class="tk">0.00</text><text x="3201" y="2140" class="tk">0.05</text><text x="3201" y="2096" class="tk">0.10</text><text x="3201" y="2052" class="tk">0.15</text>
<text x="3553" y="2185" class="tk">0.0</text><text x="3553" y="2130" class="tk">0.2</text><text x="3553" y="2076" class="tk">0.4</text><text x="3553" y="2021" class="tk">0.6</text>
<text x="3904" y="2185" class="tk">0</text><text x="3904" y="2143" class="tk">1</text><text x="3904" y="2103" class="tk">2</text><text x="3904" y="2061" class="tk">3</text>
</g>
<g text-anchor="middle">
<text x="2864" y="2197" class="tk">0.12</text><text x="2946" y="2197" class="tk">0.14</text><text x="3029" y="2197" class="tk">0.16</text><text x="3111" y="2197" class="tk">0.18</text>
<text x="3214" y="2197" class="tk">0.02</text><text x="3297" y="2197" class="tk">0.04</text><text x="3380" y="2197" class="tk">0.06</text><text x="3463" y="2197" class="tk">0.08</text>
<text x="3566" y="2197" class="tk">0.050</text><text x="3649" y="2197" class="tk">0.075</text><text x="3731" y="2197" class="tk">0.100</text><text x="3814" y="2197" class="tk">0.125</text>
<text x="3917" y="2197" class="tk">0.05</text><text x="3999" y="2197" class="tk">0.10</text><text x="4082" y="2197" class="tk">0.15</text><text x="4164" y="2197" class="tk">0.20</text>
</g>

<!-- ===== Evaluation block 2 ===== -->
<rect x="3098" y="2284" width="811" height="41" rx="5" fill="#fff" stroke="#d5d5d5" stroke-width="2"/>
<line x1="3106" y1="2304" x2="3149" y2="2304" class="sg"/><text x="3169" y="2311" class="tt">Sarathi</text>
<line x1="3297" y1="2304" x2="3339" y2="2304" class="so"/><text x="3358" y="2311" class="tt">Sarathi-offline</text>
<line x1="3565" y1="2304" x2="3608" y2="2304" class="sbd"/><text x="3628" y="2311" class="tt">HyGen</text>
<line x1="3749" y1="2304" x2="3793" y2="2304" class="sr"/><text x="3812" y="2311" class="tt">HyGen*</text>
<g text-anchor="middle">
<text x="2988" y="2351" class="tt">Mean TBT</text><text x="3340" y="2351" class="tt">P99 TBT</text><text x="3692" y="2351" class="tt">Mean TTFT</text><text x="4044" y="2351" class="tt">P99 TTFT</text>
<text x="2988" y="2787" class="tt">Tolerance</text><text x="3340" y="2787" class="tt">Tolerance</text><text x="3692" y="2787" class="tt">Tolerance</text><text x="4044" y="2787" class="tt">Tolerance</text>
<text transform="translate(2767,2438) rotate(-90)" class="tt">Llama2-7B</text><text transform="translate(2789,2438) rotate(-90)" class="tt">Total TPS</text>
<text transform="translate(2767,2659) rotate(-90)" class="tt">Qwen-14B</text><text transform="translate(2789,2659) rotate(-90)" class="tt">Total TPS</text>
</g>
<rect class="fr" x="2853" y="2356" width="270" height="165"/>
<path class="gd" d="M2864 2356V2521M2926 2356V2521M2989 2356V2521M3051 2356V2521M3113 2356V2521M2853 2471H3123M2853 2420H3123M2853 2368H3123"/>
<polyline class="so" points="2864,2365 3113,2365"/><polyline class="sg" points="2864,2487 3113,2487"/>
<polyline class="sbd" points="2864,2474 2926,2456 2989,2443 3051,2431 3113,2424"/><polyline class="sr" points="2864,2475 2926,2459 2989,2449 3051,2436 3113,2429"/>
<rect class="fr" x="3205" y="2356" width="270" height="165"/>
<path class="gd" d="M3216 2356V2521M3278 2356V2521M3341 2356V2521M3403 2356V2521M3465 2356V2521M3205 2471H3475M3205 2420H3475M3205 2368H3475"/>
<polyline class="so" points="3216,2365 3465,2365"/><polyline class="sg" points="3216,2487 3465,2487"/>
<polyline class="sbd" points="3216,2417 3278,2393 3341,2392 3403,2393 3465,2389"/><polyline class="sr" points="3216,2475 3278,2465 3341,2455 3403,2443 3465,2409"/>
<rect class="fr" x="3557" y="2356" width="270" height="165"/>
<path class="gd" d="M3568 2356V2521M3630 2356V2521M3693 2356V2521M3755 2356V2521M3817 2356V2521M3557 2471H3827M3557 2420H3827M3557 2368H3827"/>
<polyline class="so" points="3568,2365 3817,2365"/><polyline class="sg" points="3568,2487 3817,2487"/>
<polyline class="sbd" points="3568,2428 3630,2412 3693,2396 3755,2391 3817,2390"/><polyline class="sr" points="3568,2453 3630,2433 3693,2407 3755,2395 3817,2392"/>
<rect class="fr" x="3909" y="2356" width="270" height="165"/>
<path class="gd" d="M3920 2356V2521M3982 2356V2521M4045 2356V2521M4107 2356V2521M4169 2356V2521M3909 2471H4179M3909 2420H4179M3909 2368H4179"/>
<polyline class="so" points="3920,2365 4169,2365"/><polyline class="sg" points="3920,2487 4169,2487"/>
<polyline class="sbd" points="3920,2450 3982,2433 4045,2414 4107,2412 4169,2395"/><polyline class="sr" points="3920,2456 3982,2435 4045,2431 4107,2413 4169,2401"/>
<g text-anchor="end">
<text x="2851" y="2528" class="tk">0</text><text x="2851" y="2478" class="tk">2000</text><text x="2851" y="2427" class="tk">4000</text><text x="2851" y="2375" class="tk">6000</text>
<text x="3203" y="2528" class="tk">0</text><text x="3203" y="2478" class="tk">2000</text><text x="3203" y="2427" class="tk">4000</text><text x="3203" y="2375" class="tk">6000</text>
<text x="3555" y="2528" class="tk">0</text><text x="3555" y="2478" class="tk">2000</text><text x="3555" y="2427" class="tk">4000</text><text x="3555" y="2375" class="tk">6000</text>
<text x="3907" y="2528" class="tk">0</text><text x="3907" y="2478" class="tk">2000</text><text x="3907" y="2427" class="tk">4000</text><text x="3907" y="2375" class="tk">6000</text>
</g>
<g text-anchor="middle">
<text x="2864" y="2541" class="tk">0.1</text><text x="2926" y="2541" class="tk">0.2</text><text x="2989" y="2541" class="tk">0.3</text><text x="3051" y="2541" class="tk">0.4</text><text x="3113" y="2541" class="tk">0.5</text>
<text x="3216" y="2541" class="tk">0.05</text><text x="3278" y="2541" class="tk">0.10</text><text x="3341" y="2541" class="tk">0.15</text><text x="3403" y="2541" class="tk">0.20</text><text x="3465" y="2541" class="tk">0.25</text>
<text x="3568" y="2541" class="tk">0.05</text><text x="3630" y="2541" class="tk">0.10</text><text x="3693" y="2541" class="tk">0.15</text><text x="3755" y="2541" class="tk">0.20</text><text x="3817" y="2541" class="tk">0.25</text>
<text x="3920" y="2541" class="tk">0.05</text><text x="3982" y="2541" class="tk">0.075</text><text x="4045" y="2541" class="tk">0.1</text><text x="4107" y="2541" class="tk">0.125</text><text x="4169" y="2541" class="tk">0.15</text>
</g>
<rect class="fr" x="2853" y="2576" width="270" height="165"/>
<path class="gd" d="M2864 2576V2741M2947 2576V2741M3030 2576V2741M3113 2576V2741M2853 2699H3123M2853 2654H3123M2853 2611H3123"/>
<polyline class="so" points="2864,2584 3113,2584"/><polyline class="sg" points="2864,2699 3113,2699"/>
<polyline class="sbd" points="2864,2649 2947,2624 3030,2616 3113,2615"/><polyline class="sr" points="2864,2652 2947,2639 3030,2631 3113,2623"/>
<rect class="fr" x="3205" y="2576" width="270" height="165"/>
<path class="gd" d="M3216 2576V2741M3299 2576V2741M3382 2576V2741M3465 2576V2741M3205 2699H3475M3205 2654H3475M3205 2611H3475"/>
<polyline class="so" points="3216,2584 3465,2584"/><polyline class="sg" points="3216,2699 3465,2699"/>
<polyline class="sbd" points="3216,2624 3299,2614 3382,2610 3465,2610"/><polyline class="sr" points="3216,2685 3299,2677 3382,2639 3465,2637"/>
<rect class="fr" x="3557" y="2576" width="270" height="165"/>
<path class="gd" d="M3568 2576V2741M3651 2576V2741M3734 2576V2741M3817 2576V2741M3557 2699H3827M3557 2654H3827M3557 2611H3827"/>
<polyline class="so" points="3568,2584 3817,2584"/><polyline class="sg" points="3568,2699 3817,2699"/>
<polyline class="sbd" points="3568,2660 3651,2624 3734,2607 3817,2607"/><polyline class="sr" points="3568,2662 3651,2640 3734,2632 3817,2618"/>
<rect class="fr" x="3909" y="2576" width="270" height="165"/>
<path class="gd" d="M3920 2576V2741M4003 2576V2741M4086 2576V2741M4169 2576V2741M3909 2699H4179M3909 2654H4179M3909 2611H4179"/>
<polyline class="so" points="3920,2584 4169,2584"/><polyline class="sg" points="3920,2699 4169,2699"/>
<polyline class="sbd" points="3920,2649 4003,2627 4086,2618 4169,2615"/><polyline class="sr" points="3920,2655 4003,2638 4086,2631 4169,2631"/>
<g text-anchor="end">
<text x="2851" y="2748" class="tk">0</text><text x="2851" y="2706" class="tk">250</text><text x="2851" y="2661" class="tk">500</text><text x="2851" y="2618" class="tk">750</text>
<text x="3203" y="2748" class="tk">0</text><text x="3203" y="2706" class="tk">250</text><text x="3203" y="2661" class="tk">500</text><text x="3203" y="2618" class="tk">750</text>
<text x="3555" y="2748" class="tk">0</text><text x="3555" y="2706" class="tk">250</text><text x="3555" y="2661" class="tk">500</text><text x="3555" y="2618" class="tk">750</text>
<text x="3907" y="2748" class="tk">0</text><text x="3907" y="2706" class="tk">250</text><text x="3907" y="2661" class="tk">500</text><text x="3907" y="2618" class="tk">750</text>
</g>
<g text-anchor="middle">
<text x="2864" y="2760" class="tk">0.12</text><text x="2947" y="2760" class="tk">0.14</text><text x="3030" y="2760" class="tk">0.16</text><text x="3113" y="2760" class="tk">0.18</text>
<text x="3216" y="2760" class="tk">0.02</text><text x="3299" y="2760" class="tk">0.04</text><text x="3382" y="2760" class="tk">0.06</text><text x="3465" y="2760" class="tk">0.08</text>
<text x="3568" y="2760" class="tk">0.050</text><text x="3651" y="2760" class="tk">0.075</text><text x="3734" y="2760" class="tk">0.100</text><text x="3817" y="2760" class="tk">0.125</text>
<text x="3920" y="2760" class="tk">0.05</text><text x="4003" y="2760" class="tk">0.10</text><text x="4086" y="2760" class="tk">0.15</text><text x="4169" y="2760" class="tk">0.20</text>
</g>
</svg>
</body></html>
